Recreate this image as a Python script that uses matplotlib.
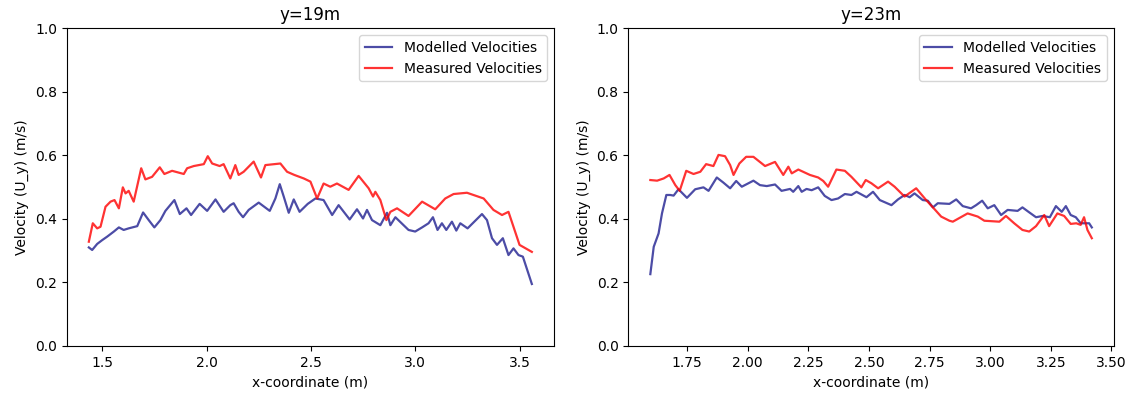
import matplotlib
matplotlib.use('Agg')
import matplotlib.pyplot as plt

# y = 19 m section
x19_mod = [1.436, 1.452, 1.476, 1.500, 1.524, 1.556, 1.580, 1.603, 1.627, 1.668,
           1.696, 1.723, 1.750, 1.779, 1.803, 1.846, 1.872, 1.904, 1.926, 1.967,
           2.003, 2.043, 2.082, 2.114, 2.130, 2.154, 2.175, 2.202, 2.250, 2.303,
           2.330, 2.351, 2.370, 2.394, 2.418, 2.446, 2.485, 2.522, 2.561, 2.602,
           2.633, 2.686, 2.721, 2.750, 2.769, 2.793, 2.833, 2.865, 2.881, 2.905,
           2.968, 3.000, 3.033, 3.064, 3.085, 3.107, 3.128, 3.149, 3.176, 3.197,
           3.216, 3.251, 3.320, 3.344, 3.368, 3.392, 3.420, 3.447, 3.471, 3.495,
           3.516, 3.559]
u19_mod = [0.310, 0.302, 0.321, 0.333, 0.344, 0.360, 0.373, 0.365, 0.370, 0.377,
           0.420, 0.396, 0.373, 0.396, 0.425, 0.459, 0.415, 0.433, 0.412, 0.447,
           0.425, 0.461, 0.422, 0.443, 0.449, 0.422, 0.405, 0.428, 0.451, 0.425,
           0.464, 0.509, 0.470, 0.419, 0.461, 0.422, 0.447, 0.464, 0.459, 0.412,
           0.443, 0.398, 0.430, 0.401, 0.428, 0.396, 0.380, 0.419, 0.380, 0.405,
           0.365, 0.360, 0.373, 0.386, 0.405, 0.365, 0.386, 0.365, 0.391, 0.363,
           0.386, 0.370, 0.415, 0.396, 0.339, 0.318, 0.339, 0.286, 0.307, 0.286,
           0.281, 0.195]

x19_meas = [1.436, 1.455, 1.476, 1.492, 1.516, 1.540, 1.559, 1.580, 1.599, 1.612,
            1.627, 1.651, 1.687, 1.707, 1.739, 1.776, 1.798, 1.835, 1.891, 1.907,
            1.939, 1.987, 2.006, 2.027, 2.063, 2.082, 2.114, 2.138, 2.154, 2.178,
            2.226, 2.261, 2.282, 2.354, 2.386, 2.421, 2.466, 2.498, 2.530, 2.561,
            2.593, 2.625, 2.681, 2.729, 2.777, 2.798, 2.809, 2.833, 2.862, 2.881,
            2.913, 2.968, 3.033, 3.096, 3.144, 3.184, 3.248, 3.328, 3.375, 3.416,
            3.447, 3.471, 3.500, 3.559]
u19_meas = [0.328, 0.386, 0.370, 0.375, 0.438, 0.454, 0.459, 0.433, 0.499, 0.480,
            0.488, 0.454, 0.559, 0.524, 0.532, 0.562, 0.541, 0.551, 0.541, 0.559,
            0.566, 0.572, 0.597, 0.574, 0.566, 0.572, 0.527, 0.569, 0.538, 0.548,
            0.580, 0.530, 0.569, 0.574, 0.548, 0.538, 0.527, 0.517, 0.464, 0.511,
            0.501, 0.511, 0.491, 0.535, 0.496, 0.470, 0.485, 0.459, 0.396, 0.422,
            0.433, 0.409, 0.454, 0.430, 0.464, 0.478, 0.482, 0.464, 0.428, 0.412,
            0.422, 0.375, 0.318, 0.296]

# y = 23 m section
x23_mod = [1.599, 1.613, 1.633, 1.647, 1.665, 1.681, 1.695, 1.715, 1.750, 1.784,
           1.818, 1.839, 1.873, 1.900, 1.928, 1.953, 1.976, 2.024, 2.051, 2.079,
           2.113, 2.140, 2.175, 2.188, 2.209, 2.223, 2.243, 2.264, 2.291, 2.318,
           2.346, 2.373, 2.401, 2.428, 2.449, 2.490, 2.517, 2.545, 2.593, 2.620,
           2.647, 2.668, 2.688, 2.722, 2.743, 2.764, 2.784, 2.832, 2.860, 2.887,
           2.921, 2.942, 2.967, 2.990, 3.017, 3.045, 3.072, 3.113, 3.133, 3.158,
           3.189, 3.216, 3.246, 3.271, 3.295, 3.312, 3.332, 3.353, 3.373, 3.408,
           3.419]
u23_mod = [0.226, 0.312, 0.354, 0.417, 0.475, 0.475, 0.473, 0.493, 0.466, 0.493,
           0.499, 0.488, 0.530, 0.514, 0.496, 0.519, 0.501, 0.520, 0.506, 0.503,
           0.508, 0.488, 0.494, 0.485, 0.503, 0.485, 0.494, 0.490, 0.499, 0.472,
           0.459, 0.464, 0.478, 0.475, 0.485, 0.468, 0.485, 0.459, 0.443, 0.461,
           0.475, 0.468, 0.480, 0.459, 0.457, 0.436, 0.449, 0.447, 0.461, 0.440,
           0.433, 0.443, 0.457, 0.433, 0.443, 0.412, 0.428, 0.425, 0.436, 0.422,
           0.405, 0.409, 0.405, 0.440, 0.422, 0.440, 0.412, 0.405, 0.386, 0.386,
           0.373]

x23_meas = [1.599, 1.627, 1.654, 1.678, 1.702, 1.720, 1.747, 1.777, 1.805, 1.829,
            1.859, 1.880, 1.907, 1.928, 1.942, 1.966, 1.994, 2.024, 2.072, 2.113,
            2.147, 2.168, 2.182, 2.209, 2.257, 2.291, 2.312, 2.332, 2.366, 2.401,
            2.428, 2.469, 2.487, 2.510, 2.538, 2.579, 2.606, 2.647, 2.695, 2.736,
            2.771, 2.798, 2.832, 2.846, 2.907, 2.949, 2.976, 3.038, 3.065, 3.099,
            3.133, 3.161, 3.189, 3.223, 3.243, 3.277, 3.305, 3.332, 3.355, 3.373,
            3.387, 3.401, 3.419]
u23_meas = [0.522, 0.520, 0.527, 0.538, 0.506, 0.488, 0.551, 0.541, 0.548, 0.572,
            0.566, 0.601, 0.597, 0.569, 0.538, 0.574, 0.595, 0.595, 0.566, 0.579,
            0.538, 0.564, 0.543, 0.555, 0.538, 0.530, 0.519, 0.501, 0.555, 0.551,
            0.532, 0.499, 0.522, 0.512, 0.496, 0.517, 0.501, 0.470, 0.496, 0.459,
            0.430, 0.407, 0.394, 0.391, 0.417, 0.407, 0.394, 0.391, 0.409, 0.386,
            0.365, 0.360, 0.377, 0.412, 0.377, 0.417, 0.409, 0.384, 0.386, 0.381,
            0.405, 0.365, 0.339]

titles = ['y=19m', 'y=23m']
xticks_19 = [1.5, 2.0, 2.5, 3.0, 3.5]
xticks_23 = [1.75, 2.00, 2.25, 2.50, 2.75, 3.00, 3.25, 3.50]

fig = plt.figure(figsize=(11.32, 3.93), dpi=100)
ax1 = fig.add_axes([0.0589, 0.1196, 0.4305, 0.809])
ax2 = fig.add_axes([0.555, 0.1196, 0.429, 0.809])

panels = [
    (ax1, x19_mod, u19_mod, x19_meas, u19_meas, xticks_19, '{:.1f}'),
    (ax2, x23_mod, u23_mod, x23_meas, u23_meas, xticks_23, '{:.2f}'),
]

for (ax, xm, um, xs, us, ticks, fmt), title in zip(panels, titles):
    ax.plot(xm, um, color='navy', alpha=0.7, lw=1.6, label='Modelled Velocities')
    ax.plot(xs, us, color='red', alpha=0.8, lw=1.6, label='Measured Velocities')
    ax.set_ylim(0, 1)
    ax.set_xticks(ticks)
    ax.set_xticklabels([fmt.format(t) for t in ticks])
    ax.set_title(title)
    ax.set_xlabel('x-coordinate (m)')
    ax.set_ylabel('Velocity (U_y) (m/s)')
    ax.legend(loc='upper right')

plt.savefig('out.png', dpi=100)
